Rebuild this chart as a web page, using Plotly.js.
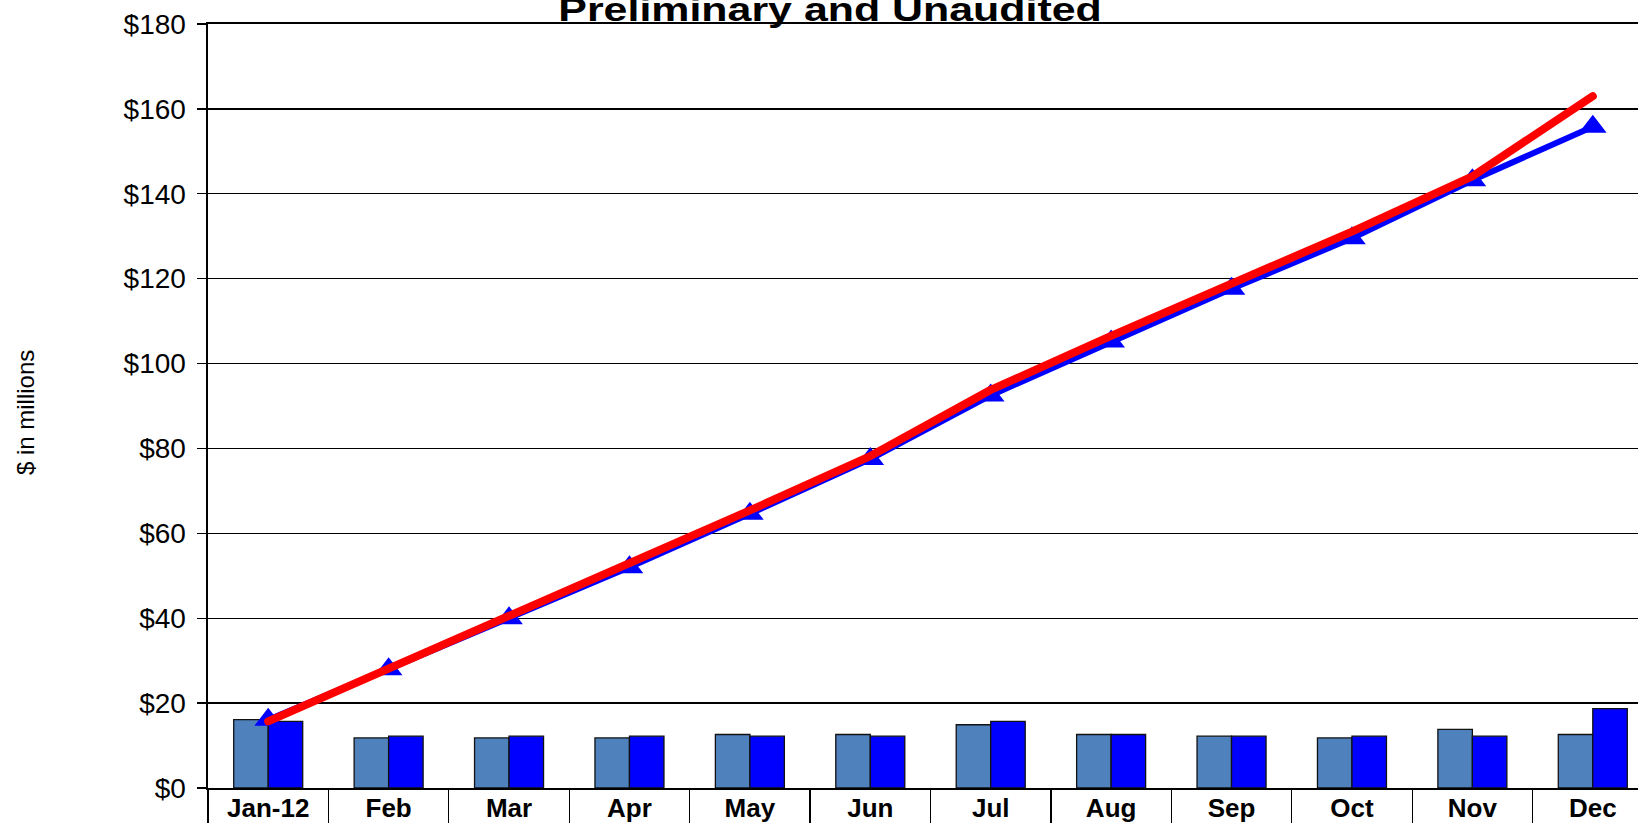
<!DOCTYPE html>
<html>
<head>
<meta charset="utf-8">
<script src="https://cdn.plot.ly/plotly-3.0.1.min.js"></script>
<style>
  html, body { margin: 0; padding: 0; overflow: hidden; background: #fff; }
  #chart { width: 1670px; height: 823px; }
  #chart .js-line { stroke-linecap: round; stroke-linejoin: round; }
</style>
</head>
<body>
<div id="chart"></div>
<script>
// Month labels along the category axis
const months = ['Jan-12', 'Feb', 'Mar', 'Apr', 'May', 'Jun', 'Jul', 'Aug', 'Sep', 'Oct', 'Nov', 'Dec'];

// Monthly amounts, $ in millions
const monthlyPlan   = [16.1, 11.8, 11.8, 11.8, 12.6, 12.6, 14.9, 12.6, 12.2, 11.8, 13.8, 12.6];
const monthlyActual = [15.7, 12.2, 12.2, 12.2, 12.2, 12.2, 15.7, 12.6, 12.2, 12.2, 12.2, 18.7];

// Year-to-date running totals, $ in millions
const ytdPlan   = [16.1, 28.0, 40.0, 52.0, 64.6, 77.5, 92.5, 105.2, 117.6, 129.5, 143.2, 155.8];
const ytdActual = [15.7, 28.0, 40.4, 52.8, 65.4, 78.2, 93.8, 106.5, 118.8, 131.1, 144.1, 163.0];

// Value axis ticks
const yTickVals = [0, 20, 40, 60, 80, 100, 120, 140, 160, 180];
const yTickText = ['$0', '$20', '$40', '$60', '$80', '$100', '$120', '$140', '$160', '$180'];

const chartTitle = 'Preliminary and Unaudited';
const valueAxisTitle = '$ in millions';

const FONT = 'Liberation Sans, Arial, Helvetica, sans-serif';

const traces = [
  {
    type: 'bar', x: months, y: monthlyPlan, name: 'Monthly plan',
    marker: { color: '#4F81BD', line: { color: '#111', width: 1.3 } },
    hoverinfo: 'skip'
  },
  {
    type: 'bar', x: months, y: monthlyActual, name: 'Monthly actual',
    marker: { color: '#0000FF', line: { color: '#111', width: 1.3 } },
    hoverinfo: 'skip'
  },
  {
    type: 'scatter', mode: 'lines+markers', x: months, y: ytdPlan, name: 'YTD plan',
    line: { color: '#0000FF', width: 6 },
    marker: { symbol: 'triangle-up', size: 24, color: '#0000FF' },
    hoverinfo: 'skip'
  },
  {
    type: 'scatter', mode: 'lines', x: months, y: ytdActual, name: 'YTD actual',
    line: { color: '#FF0000', width: 8 },
    hoverinfo: 'skip'
  }
];

const layout = {
  width: 1670,
  height: 823,
  margin: { l: 208, r: 17, t: 24, b: 35 },
  paper_bgcolor: '#ffffff',
  plot_bgcolor: '#ffffff',
  showlegend: false,
  barmode: 'group',
  bargap: 0.427,
  bargroupgap: 0,
  font: { family: FONT, color: '#000' },
  xaxis: {
    type: 'category',
    range: [-0.5, 11.5],
    tickson: 'boundaries',
    ticks: 'outside',
    ticklen: 40,
    tickwidth: 1.3,
    tickcolor: '#000',
    showline: true,
    mirror: true,
    linecolor: '#000',
    linewidth: 2.2,
    showgrid: false,
    zeroline: false,
    tickfont: { family: FONT, size: 26, weight: 'bold', color: '#000' },
    ticklabelstandoff: -4,
    fixedrange: true
  },
  yaxis: {
    range: [0, 180],
    tickmode: 'array',
    tickvals: yTickVals,
    ticktext: yTickText,
    ticks: 'outside',
    ticklen: 9,
    tickwidth: 1.3,
    tickcolor: '#000',
    showline: true,
    linecolor: '#000',
    linewidth: 2.5,
    showgrid: true,
    gridcolor: '#000',
    gridwidth: 1.3,
    zeroline: false,
    tickfont: { family: FONT, size: 28, color: '#000' },
    ticklabelstandoff: 5,
    fixedrange: true
  },
  annotations: [
    {
      text: chartTitle,
      xref: 'paper', yref: 'paper',
      x: 0.4305, y: 1,
      xanchor: 'center', yanchor: 'bottom',
      yshift: -6,
      showarrow: false,
      font: { family: FONT, size: 33, weight: 'bold', color: '#000' }
    },
    {
      text: valueAxisTitle,
      xref: 'paper', yref: 'paper',
      x: -0.1266, y: 0.4908,
      xanchor: 'center', yanchor: 'middle',
      textangle: -90,
      showarrow: false,
      font: { family: FONT, size: 24, color: '#000' }
    }
  ]
};

Plotly.newPlot('chart', traces, layout, { staticPlot: true, displayModeBar: false }).then(function (gd) {
  // The heading is set in a wide face: stretch it horizontally about its centre
  const t = gd.querySelector('.annotation[data-index="0"] text.annotation-text');
  if (t) {
    const bb = t.getBBox();
    const cx = bb.x + bb.width / 2;
    const prev = t.getAttribute('transform') || '';
    t.setAttribute('transform', prev + ' translate(' + cx + ',0) scale(1.3,1) translate(' + (-cx) + ',0)');
  }
});
</script>
</body>
</html>
